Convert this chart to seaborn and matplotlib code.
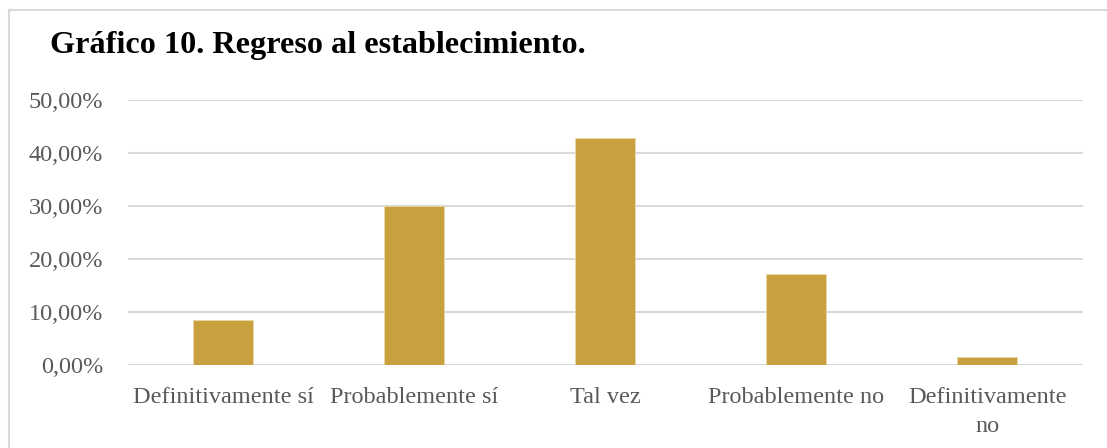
import matplotlib
matplotlib.use("Agg")
import matplotlib.pyplot as plt
import seaborn as sns
import pandas as pd
from matplotlib.lines import Line2D
from matplotlib.ticker import FuncFormatter

categorias = ["Definitivamente sí", "Probablemente sí", "Tal vez",
              "Probablemente no", "Definitivamente\nno"]
porcentajes = [8.57, 30.00, 42.86, 17.14, 1.43]
ticks_y = [0, 10, 20, 30, 40, 50]

df = pd.DataFrame({"categoria": categorias, "porcentaje": porcentajes})

sns.set_style("white")
plt.rcParams['font.family'] = ['Liberation Serif', 'DejaVu Serif']

fig = plt.figure(figsize=(11.07, 4.48), dpi=100)
ax = fig.add_axes([0.1156, 0.1853, 0.8627, 0.5915])

sns.barplot(data=df, x="categoria", y="porcentaje", color="#C8A03E",
            width=0.314, saturation=1, edgecolor="#EAD9A8", linewidth=0.6, ax=ax)

ax.set_ylim(0, 50)
ax.set_yticks(ticks_y)
ax.yaxis.set_major_formatter(FuncFormatter(lambda v, p: f"{v:.2f}%".replace(".", ",")))
ax.grid(axis="y", color="#D9D9D9", linewidth=1.5)
ax.set_axisbelow(True)
for s in ax.spines.values():
    s.set_visible(False)
ax.tick_params(axis="both", length=0, labelsize=17.5, labelcolor="#595959")
ax.tick_params(axis="y", pad=18)
ax.tick_params(axis="x", pad=16)
ax.set_xlabel("")
ax.set_ylabel("")
for t in ax.get_xticklabels():
    t.set_linespacing(1.5)

fig.text(50 / 1107, 1 - 46 / 448, "Gráfico 10. Regreso al establecimiento.",
         fontsize=23.2, fontweight="bold", va="center", ha="left", color="black")

# marco del gráfico
fig.add_artist(Line2D([9 / 1107, 1], [1 - 10 / 448, 1 - 10 / 448],
                      transform=fig.transFigure, color="#D9D9D9", linewidth=1.5))
fig.add_artist(Line2D([9 / 1107, 9 / 1107], [0, 1 - 10 / 448],
                      transform=fig.transFigure, color="#D9D9D9", linewidth=1.5))

fig.savefig("out.png", dpi=100, facecolor="white")
